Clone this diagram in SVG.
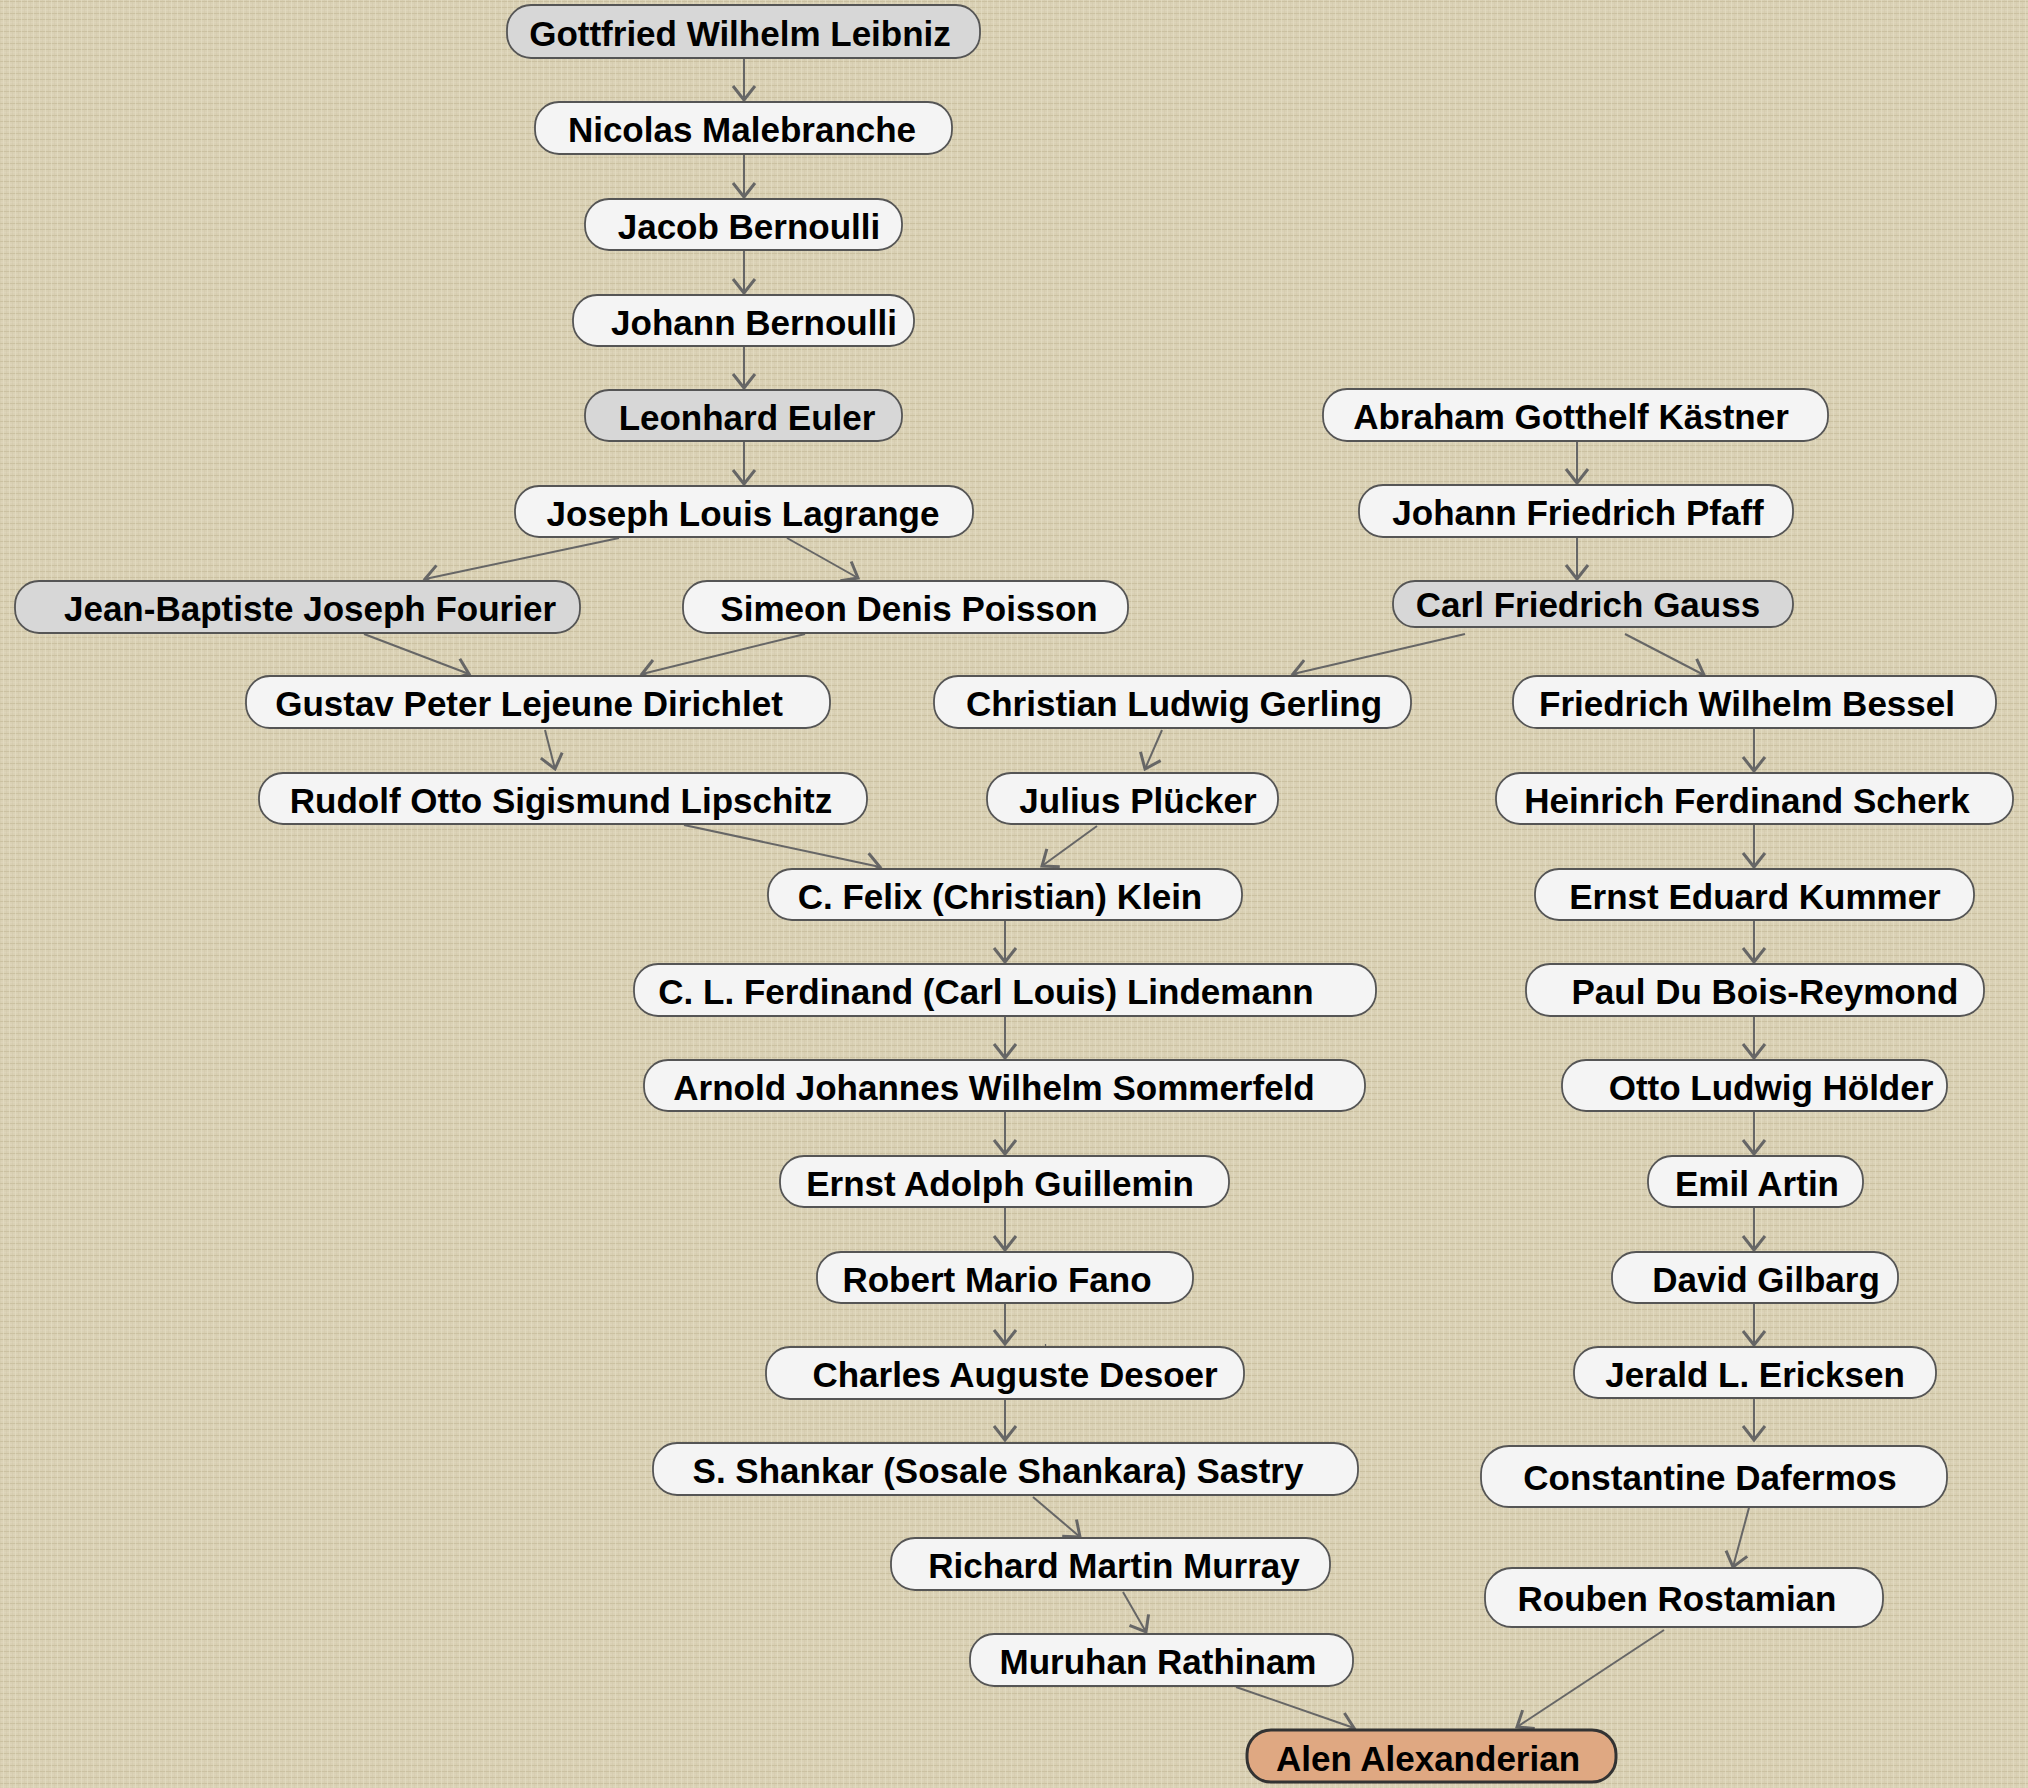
<svg xmlns="http://www.w3.org/2000/svg" width="2028" height="1788" viewBox="0 0 2028 1788">
<defs>
<pattern id="linen" patternUnits="userSpaceOnUse" width="6" height="6">
<rect width="6" height="6" fill="#dad1b5"/>
<path d="M0,1.5 H6" stroke="#c4ba98" stroke-width="1" opacity="0.7"/>
<path d="M3.5,0 V6" stroke="#e6dfc7" stroke-width="1" opacity="0.6"/>
<path d="M0,4.5 H6" stroke="#e2dac1" stroke-width="0.8" opacity="0.5"/>
<path d="M0.5,0 V6" stroke="#cbc2a2" stroke-width="0.8" opacity="0.4"/>
</pattern>
<marker id="vee" markerUnits="userSpaceOnUse" orient="auto" markerWidth="40" markerHeight="40" viewBox="-20 -20 40 40" refX="0" refY="0" overflow="visible">
<path d="M-14,-11 L0,0 L-14,11" fill="none" stroke="#666" stroke-width="3"/>
</marker>
</defs>
<style>
.n rect{fill:#f4f4f4;stroke:#555;stroke-width:1.8}
.g rect{fill:#d7d7d7}
.me rect{fill:#dfa882;stroke:#333;stroke-width:3}
.n text{font-family:"Liberation Sans",Arial,sans-serif;font-weight:bold;font-size:35px;fill:#000;text-anchor:middle}
#edges line{stroke:#666;stroke-width:2;marker-end:url(#vee)}
#edges line.art{stroke-width:1.2;marker-end:none}
</style>
<rect width="2028" height="1788" fill="url(#linen)"/>
<g id="edges">
<line x1="744" y1="58" x2="744" y2="100"/>
<line x1="744" y1="154" x2="744" y2="197"/>
<line x1="744" y1="250" x2="744" y2="293"/>
<line x1="744" y1="346" x2="744" y2="388"/>
<line x1="744" y1="441" x2="744" y2="484"/>
<line x1="619" y1="538" x2="425" y2="579"/>
<line x1="787" y1="538" x2="858" y2="578"/>
<line x1="364" y1="634" x2="469" y2="674"/>
<line x1="805" y1="634" x2="642" y2="674"/>
<line x1="545" y1="730" x2="555" y2="769"/>
<line x1="684" y1="825" x2="880" y2="867"/>
<line x1="1162" y1="730" x2="1145" y2="769"/>
<line x1="1097" y1="826" x2="1042" y2="866"/>
<line x1="1005" y1="920" x2="1005" y2="962"/>
<line x1="1005" y1="1015" x2="1005" y2="1058"/>
<line x1="1005" y1="1111" x2="1005" y2="1154"/>
<line x1="1005" y1="1207" x2="1005" y2="1250"/>
<line x1="1005" y1="1302" x2="1005" y2="1344"/>
<line class="art" x1="1045.5" y1="1344" x2="1045.5" y2="1370"/>
<line x1="1005" y1="1399" x2="1005" y2="1440"/>
<line x1="1033" y1="1497" x2="1080" y2="1537"/>
<line x1="1123" y1="1592" x2="1146" y2="1632"/>
<line x1="1236" y1="1687" x2="1354" y2="1728"/>
<line x1="1577" y1="442" x2="1577" y2="483"/>
<line x1="1577" y1="537" x2="1577" y2="579"/>
<line x1="1465" y1="634" x2="1293" y2="674"/>
<line x1="1625" y1="634" x2="1704" y2="675"/>
<line x1="1754" y1="728" x2="1754" y2="771"/>
<line x1="1754" y1="824" x2="1754" y2="867"/>
<line x1="1754" y1="920" x2="1754" y2="962"/>
<line x1="1754" y1="1015" x2="1754" y2="1058"/>
<line x1="1754" y1="1111" x2="1754" y2="1154"/>
<line x1="1754" y1="1207" x2="1754" y2="1250"/>
<line x1="1754" y1="1302" x2="1754" y2="1345"/>
<line x1="1754" y1="1397" x2="1754" y2="1440"/>
<line x1="1750" y1="1504" x2="1733" y2="1567"/>
<line x1="1664" y1="1630" x2="1517" y2="1727"/>
</g>
<g id="leibniz" class="n g"><rect x="507" y="5" width="473" height="53" rx="24"/><text x="740" y="46">Gottfried Wilhelm Leibniz</text></g>
<g id="malebranche" class="n"><rect x="535" y="102" width="417" height="52" rx="24"/><text x="742" y="142">Nicolas Malebranche</text></g>
<g id="jacob-bernoulli" class="n"><rect x="585" y="199" width="317" height="51" rx="24"/><text x="749" y="238.5">Jacob Bernoulli</text></g>
<g id="johann-bernoulli" class="n"><rect x="573" y="295" width="341" height="51" rx="24"/><text x="754" y="334.5">Johann Bernoulli</text></g>
<g id="euler" class="n g"><rect x="585" y="390" width="317" height="51" rx="24"/><text x="747" y="429.5">Leonhard Euler</text></g>
<g id="lagrange" class="n"><rect x="515" y="486" width="458" height="51" rx="24"/><text x="743" y="525.5">Joseph Louis Lagrange</text></g>
<g id="fourier" class="n g"><rect x="15" y="581" width="565" height="52" rx="24"/><text x="310" y="621">Jean-Baptiste Joseph Fourier</text></g>
<g id="poisson" class="n"><rect x="683" y="581" width="445" height="52" rx="24"/><text x="909" y="621">Simeon Denis Poisson</text></g>
<g id="dirichlet" class="n"><rect x="246" y="676" width="584" height="52" rx="24"/><text x="529" y="716">Gustav Peter Lejeune Dirichlet</text></g>
<g id="lipschitz" class="n"><rect x="259" y="773" width="608" height="51" rx="24"/><text x="561" y="812.5">Rudolf Otto Sigismund Lipschitz</text></g>
<g id="gerling" class="n"><rect x="934" y="676" width="477" height="52" rx="24"/><text x="1174" y="716">Christian Ludwig Gerling</text></g>
<g id="pluecker" class="n"><rect x="987" y="773" width="291" height="51" rx="24"/><text x="1138" y="812.5">Julius Plücker</text></g>
<g id="klein" class="n"><rect x="768" y="869" width="474" height="51" rx="24"/><text x="1000" y="908.5">C. Felix (Christian) Klein</text></g>
<g id="lindemann" class="n"><rect x="634" y="964" width="742" height="52" rx="24"/><text x="986" y="1004">C. L. Ferdinand (Carl Louis) Lindemann</text></g>
<g id="sommerfeld" class="n"><rect x="644" y="1060" width="721" height="51" rx="24"/><text x="994" y="1099.5">Arnold Johannes Wilhelm Sommerfeld</text></g>
<g id="guillemin" class="n"><rect x="780" y="1156" width="449" height="51" rx="24"/><text x="1000" y="1195.5">Ernst Adolph Guillemin</text></g>
<g id="fano" class="n"><rect x="817" y="1252" width="376" height="51" rx="24"/><text x="997" y="1291.5">Robert Mario Fano</text></g>
<g id="desoer" class="n"><rect x="766" y="1347" width="478" height="52" rx="24"/><text x="1015" y="1387">Charles Auguste Desoer</text></g>
<g id="sastry" class="n"><rect x="653" y="1443" width="705" height="52" rx="24"/><text x="998" y="1483">S. Shankar (Sosale Shankara) Sastry</text></g>
<g id="murray" class="n"><rect x="891" y="1538" width="439" height="52" rx="24"/><text x="1114" y="1578">Richard Martin Murray</text></g>
<g id="rathinam" class="n"><rect x="970" y="1634" width="383" height="52" rx="24"/><text x="1158" y="1674">Muruhan Rathinam</text></g>
<g id="alexanderian" class="n me"><rect x="1247" y="1730" width="369" height="52" rx="24"/><text x="1428" y="1771">Alen Alexanderian</text></g>
<g id="kaestner" class="n"><rect x="1323" y="389" width="505" height="52" rx="24"/><text x="1571" y="429">Abraham Gotthelf Kästner</text></g>
<g id="pfaff" class="n"><rect x="1359" y="485" width="434" height="52" rx="24"/><text x="1578" y="525">Johann Friedrich Pfaff</text></g>
<g id="gauss" class="n g"><rect x="1393" y="581" width="400" height="46" rx="22"/><text x="1588" y="617">Carl Friedrich Gauss</text></g>
<g id="bessel" class="n"><rect x="1513" y="676" width="483" height="52" rx="24"/><text x="1747" y="716">Friedrich Wilhelm Bessel</text></g>
<g id="scherk" class="n"><rect x="1496" y="773" width="517" height="51" rx="24"/><text x="1747" y="812.5">Heinrich Ferdinand Scherk</text></g>
<g id="kummer" class="n"><rect x="1535" y="869" width="439" height="51" rx="24"/><text x="1755" y="908.5">Ernst Eduard Kummer</text></g>
<g id="du-bois-reymond" class="n"><rect x="1526" y="964" width="458" height="52" rx="24"/><text x="1765" y="1004">Paul Du Bois-Reymond</text></g>
<g id="hoelder" class="n"><rect x="1562" y="1060" width="385" height="51" rx="24"/><text x="1771" y="1099.5">Otto Ludwig Hölder</text></g>
<g id="artin" class="n"><rect x="1648" y="1156" width="215" height="51" rx="24"/><text x="1757" y="1195.5">Emil Artin</text></g>
<g id="gilbarg" class="n"><rect x="1612" y="1252" width="286" height="51" rx="24"/><text x="1766" y="1291.5">David Gilbarg</text></g>
<g id="ericksen" class="n"><rect x="1574" y="1347" width="362" height="51" rx="24"/><text x="1755" y="1386.5">Jerald L. Ericksen</text></g>
<g id="dafermos" class="n"><rect x="1481" y="1446" width="466" height="61" rx="28"/><text x="1710" y="1490">Constantine Dafermos</text></g>
<g id="rostamian" class="n"><rect x="1485" y="1568" width="398" height="59" rx="27"/><text x="1677" y="1611">Rouben Rostamian</text></g>
</svg>
